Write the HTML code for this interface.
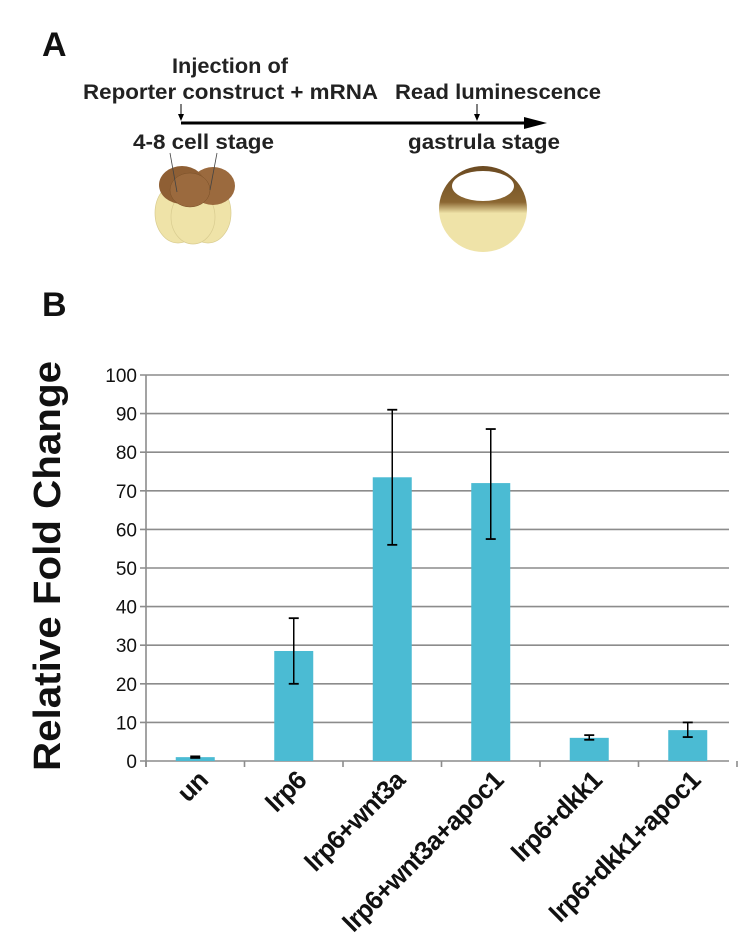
<!DOCTYPE html>
<html><head><meta charset="utf-8"><style>
html,body{margin:0;padding:0;background:#fff;}
svg{display:block;font-family:"Liberation Sans",Arial,sans-serif;}
</style></head><body>
<svg id="fig" width="744" height="948" viewBox="0 0 744 948" xmlns="http://www.w3.org/2000/svg">
<defs>
<linearGradient id="gast" x1="0" y1="0" x2="0" y2="1">
<stop offset="0" stop-color="#6b4a22"/><stop offset="0.42" stop-color="#8a6631"/><stop offset="0.55" stop-color="#efe3a8"/><stop offset="1" stop-color="#efe3a8"/>
</linearGradient>
</defs>
<g>
<text x="42" y="56" font-size="34" font-weight="bold" fill="#111">A</text>
<text x="172" y="73" font-size="21" font-weight="bold" textLength="116" lengthAdjust="spacingAndGlyphs" fill="#222">Injection of</text>
<text x="83" y="99" font-size="21" font-weight="bold" textLength="295" lengthAdjust="spacingAndGlyphs" fill="#222">Reporter construct + mRNA</text>
<text x="395" y="99" font-size="21" font-weight="bold" textLength="206" lengthAdjust="spacingAndGlyphs" fill="#222">Read luminescence</text>
<line x1="181" y1="104" x2="181" y2="117" stroke="#000" stroke-width="1"/>
<polygon points="178,114 184,114 181,121" fill="#000"/>
<line x1="477" y1="104" x2="477" y2="117" stroke="#000" stroke-width="1"/>
<polygon points="474,114 480,114 477,121" fill="#000"/>
<line x1="181" y1="123" x2="528" y2="123" stroke="#000" stroke-width="3"/>
<polygon points="524,117 547,123 524,129" fill="#000"/>
<text x="133" y="149" font-size="21" font-weight="bold" textLength="141" lengthAdjust="spacingAndGlyphs" fill="#222">4-8 cell stage</text>
<text x="408" y="149" font-size="21" font-weight="bold" textLength="152" lengthAdjust="spacingAndGlyphs" fill="#222">gastrula stage</text>
<g>
<ellipse cx="178" cy="213" rx="23" ry="30" fill="#efe3a8" stroke="#d9cc90" stroke-width="0.7"/>
<ellipse cx="208" cy="213" rx="23" ry="30" fill="#efe3a8" stroke="#d9cc90" stroke-width="0.7"/>
<ellipse cx="193" cy="217" rx="22" ry="27" fill="#efe3a8" stroke="#d9cc90" stroke-width="0.7"/>
<ellipse cx="213" cy="186" rx="22" ry="19" fill="#9b6a3e"/>
<ellipse cx="182" cy="185" rx="23" ry="19" fill="#8f5f34"/>
<ellipse cx="190" cy="190" rx="20" ry="17" fill="#9b6a3e" stroke="#7a5028" stroke-width="0.5"/>
<line x1="170" y1="153" x2="177" y2="192" stroke="#444" stroke-width="0.8"/>
<line x1="217" y1="153" x2="210" y2="190" stroke="#444" stroke-width="0.8"/>
</g>
<g>
<ellipse cx="483" cy="209" rx="44" ry="43" fill="url(#gast)"/>
<ellipse cx="483" cy="186" rx="31" ry="15" fill="#fff"/>
</g>
</g>
<text x="42" y="316" font-size="34" font-weight="bold" fill="#111">B</text>
<text transform="translate(60,566) rotate(-90)" font-size="38" font-weight="bold" text-anchor="middle" textLength="410" lengthAdjust="spacingAndGlyphs" fill="#111">Relative Fold Change</text>
<g id="chart"></g>
</svg>
<script>
const categories = ["un","lrp6","lrp6+wnt3a","lrp6+wnt3a+apoc1","lrp6+dkk1","lrp6+dkk1+apoc1"];
const values = [1, 28.5, 73.5, 72, 6, 8];
const errLow = [0.8, 20, 56, 57.5, 5.5, 6.2];
const errHigh = [1.2, 37, 91, 86, 6.7, 10];
const yTicks = [0,10,20,30,40,50,60,70,80,90,100];
const NS = "http://www.w3.org/2000/svg";
const g = document.getElementById("chart");
const x0 = 146, x1 = 737, yBase = 761, yTop = 375, yMax = 100;
const bw = (x1 - x0) / categories.length;
function yScale(v){ return yBase - (v / yMax) * (yBase - yTop); }
function xCenter(i){ return x0 + bw * (i + 0.5); }
function mk(tag, attrs){ const e = document.createElementNS(NS, tag); for (const k in attrs) e.setAttribute(k, attrs[k]); g.appendChild(e); return e; }
yTicks.forEach(t => {
  const y = yScale(t);
  const gl = mk("line", {x1: x0 - 6, x2: x1 - 8, y1: y, y2: y, stroke: "#8c8c8c", "stroke-width": 1.6});
  
  
  const tl = mk("text", {x: 137, y: y + 7, "font-size": 19, "text-anchor": "end", fill: "#111"});
  tl.textContent = t;
  
  
});
const ax = mk("line", {x1: x0, x2: x0, y1: yTop, y2: yBase + 6, stroke: "#8c8c8c", "stroke-width": 1.6});


for (let i = 0; i <= categories.length; i++) {
  const tk = mk("line", {x1: x0 + bw*i, x2: x0 + bw*i, y1: yBase, y2: yBase + 6, stroke: "#8c8c8c", "stroke-width": 1.6});
  
  
}
categories.forEach((c, i) => {
  const cx = xCenter(i), w = 39;
  const b = mk("rect", {x: cx - w/2, y: yScale(values[i]), width: w, height: yBase - yScale(values[i]), fill: "#4bbbd3"});
  
  
  const yl = yScale(errLow[i]), yh = yScale(errHigh[i]);
  const e1 = mk("line", {x1: cx, x2: cx, y1: yh, y2: yl, stroke: "#000", "stroke-width": 1.5});
  
  
  mk("line", {x1: cx - 5, x2: cx + 5, y1: yh, y2: yh, stroke: "#000", "stroke-width": 1.8});
  mk("line", {x1: cx - 5, x2: cx + 5, y1: yl, y2: yl, stroke: "#000", "stroke-width": 1.8});
  const lbl = mk("text", {transform: "translate(" + (cx + 14) + ",782) rotate(-45)", "font-size": 26, "font-weight": "bold", "letter-spacing": "-0.8", "text-anchor": "end", fill: "#111"});
  lbl.textContent = c;
  
  
});
</script>
</body></html>
